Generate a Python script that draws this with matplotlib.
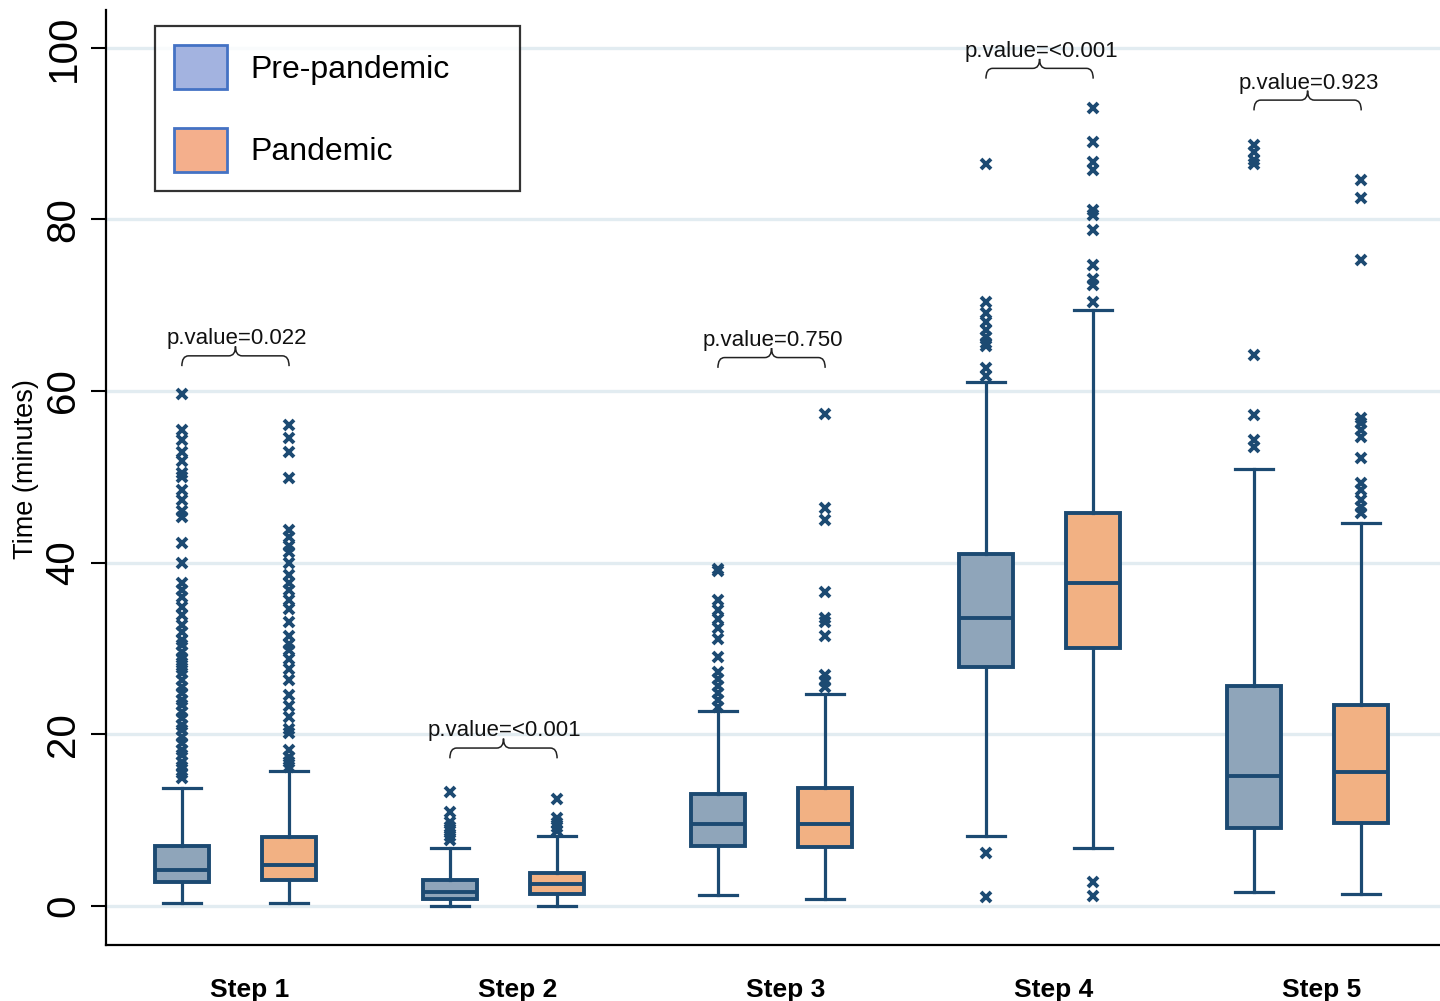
import matplotlib
matplotlib.use("Agg")
import matplotlib.pyplot as plt
from matplotlib.patches import Patch
from matplotlib.path import Path
from matplotlib.patches import PathPatch

# Box statistics (minutes)
steps = ["Step 1", "Step 2", "Step 3", "Step 4", "Step 5"]
groups = ["Pre-pandemic", "Pandemic"]

pre_whislo = [0.4, 0.0, 1.3, 8.2, 1.6]
pre_q1 = [2.8, 0.8, 7.0, 27.9, 9.1]
pre_med = [4.2, 1.6, 9.6, 33.5, 15.2]
pre_q3 = [7.0, 3.0, 13.0, 41.0, 25.6]
pre_whishi = [13.8, 6.8, 22.7, 61.0, 50.9]

pan_whislo = [0.4, 0.0, 0.8, 6.7, 1.4]
pan_q1 = [3.0, 1.35, 6.9, 30.1, 9.7]
pan_med = [4.8, 2.6, 9.6, 37.6, 15.6]
pan_q3 = [8.0, 3.8, 13.8, 45.8, 23.4]
pan_whishi = [15.7, 8.2, 24.7, 69.5, 44.6]

pre_fliers = [
    [14.9, 15.5, 16.2, 16.8, 17.6, 18.2, 19.0, 19.7, 20.5, 21.1, 21.9, 22.6,
     23.4, 24.0, 24.8, 25.5, 26.3, 27.2, 27.7, 28.3, 28.9, 29.6, 30.4, 31.0,
     31.9, 32.7, 33.9, 34.8, 36.0, 36.8, 37.6, 40.0, 42.3, 45.3, 46.0, 47.3,
     48.5, 50.0, 50.5, 51.8, 52.9, 54.3, 55.5, 59.7],
    [7.7, 8.2, 8.7, 9.2, 9.8, 10.9, 13.3],
    [23.2, 24.0, 24.8, 25.6, 26.5, 27.3, 29.0, 31.1, 32.4, 33.4, 34.5, 35.7,
     39.0, 39.3],
    [1.1, 6.2, 61.7, 62.7, 65.2, 65.6, 66.3, 67.1, 68.1, 69.1, 70.4, 86.5],
    [53.5, 54.3, 57.2, 64.2, 86.4, 86.9, 87.8, 88.7],
]
pan_fliers = [
    [16.2, 16.8, 17.4, 18.2, 20.2, 20.6, 22.0, 23.3, 24.6, 26.3, 27.6, 28.8,
     29.8, 30.5, 31.4, 33.1, 34.6, 35.7, 36.8, 37.6, 38.6, 40.0, 41.2, 42.0,
     43.0, 43.8, 49.9, 52.9, 54.5, 56.1],
    [8.7, 9.2, 9.7, 10.2, 12.5],
    [25.5, 26.2, 26.9, 31.4, 33.1, 33.6, 36.6, 45.0, 46.4, 57.3],
    [1.2, 2.8, 70.4, 72.4, 73.0, 74.7, 78.8, 80.5, 81.1, 85.8, 86.7, 89.0, 93.0],
    [45.8, 46.5, 47.3, 48.5, 49.3, 52.2, 54.7, 55.5, 56.3, 56.9, 75.3, 82.5, 84.6],
]

p_labels = ["p.value=0.022", "p.value=<0.001", "p.value=0.750",
            "p.value=<0.001", "p.value=0.923"]
bracket_y = [64.1, 18.4, 63.9, 97.6, 93.9]

navy = "#1C4A72"
pre_color = "#8FA5BA"
pan_color = "#F2B183"

plt.rcParams["font.family"] = ["Liberation Sans", "DejaVu Sans"]

fig = plt.figure(figsize=(14.4, 10.01), dpi=100)
ax = fig.add_axes([106 / 1440, 56 / 1001, 1334 / 1440, 935 / 1001])

off = 0.2
centers = list(range(1, len(steps) + 1))


def make_stats(lo, q1, med, q3, hi, fl):
    return [dict(whislo=lo[i], q1=q1[i], med=med[i], q3=q3[i], whishi=hi[i],
                 fliers=fl[i]) for i in range(len(lo))]


common = dict(
    widths=0.2, capwidths=0.14, patch_artist=True, showfliers=True,
    whiskerprops=dict(color=navy, linewidth=2.3),
    capprops=dict(color=navy, linewidth=2.3),
    medianprops=dict(color=navy, linewidth=2.8),
    flierprops=dict(marker="x", markeredgecolor=navy, markersize=7,
                    markeredgewidth=2.8, linestyle="none"),
)

pre_stats = make_stats(pre_whislo, pre_q1, pre_med, pre_q3, pre_whishi, pre_fliers)
pan_stats = make_stats(pan_whislo, pan_q1, pan_med, pan_q3, pan_whishi, pan_fliers)

b1 = ax.bxp(pre_stats, positions=[c - off for c in centers],
            boxprops=dict(facecolor=pre_color, edgecolor=navy, linewidth=2.8),
            **common)
b2 = ax.bxp(pan_stats, positions=[c + off for c in centers],
            boxprops=dict(facecolor=pan_color, edgecolor=navy, linewidth=2.8),
            **common)
for b in (b1, b2):
    for k in b:
        for a in b[k]:
            a.set_zorder(3)


# curly braces with p-values
def brace(x0, x1, y, drop=1.2, peak=1.1):
    xm = (x0 + x1) / 2
    r = 0.025
    verts = [(x0, y - drop), (x0, y), (x0 + r, y),
             (xm - r, y), (xm, y), (xm, y + peak),
             (xm, y), (xm + r, y),
             (x1 - r, y), (x1, y), (x1, y - drop)]
    codes = [Path.MOVETO, Path.CURVE3, Path.CURVE3,
             Path.LINETO, Path.CURVE3, Path.CURVE3,
             Path.CURVE3, Path.CURVE3,
             Path.LINETO, Path.CURVE3, Path.CURVE3]
    ax.add_patch(PathPatch(Path(verts, codes), facecolor="none",
                           edgecolor="#222222", linewidth=1.1, zorder=4))


for c, lab, y in zip(centers, p_labels, bracket_y):
    brace(c - off, c + off, y)
    ax.text(c + 0.005, y + 1.35, lab, ha="center", va="baseline",
            fontsize=16, color="#111111", zorder=5)

ax.set_xlim(0.517, 5.494)
ax.set_ylim(-4.55, 104.4)
ax.set_yticks([0, 20, 40, 60, 80, 100])
ax.set_yticklabels(["0", "20", "40", "60", "80", "100"], rotation=90,
                   va="center", fontsize=29)
ax.tick_params(axis="y", length=11, width=1.5, pad=6, color="black")
ax.set_xticks([c + 0.053 for c in centers])
ax.set_xticklabels(steps, fontsize=19, fontweight="bold")
ax.tick_params(axis="x", length=0, pad=24)

ax.set_ylabel("Time (minutes)", fontsize=19.5)
ax.yaxis.set_label_coords(-0.05, 0.509)

ax.grid(axis="y", color="#E2ECF1", linewidth=2.4, zorder=0)
ax.set_axisbelow(True)
for s in ("top", "right"):
    ax.spines[s].set_visible(False)
ax.spines["left"].set_linewidth(1.6)
ax.spines["bottom"].set_linewidth(1.6)

handles = [Patch(facecolor="#A3B3E0", edgecolor="#4472C4", linewidth=2),
           Patch(facecolor="#F4AF8C", edgecolor="#4472C4", linewidth=2)]
leg = fig.legend(handles, groups, loc="upper left",
                 bbox_to_anchor=(155 / 1440, 1 - 27 / 1001, 365 / 1440, 0.001),
                 mode="expand", borderaxespad=0, fontsize=23, frameon=True,
                 fancybox=False, edgecolor="black", handlelength=1.65,
                 handleheight=1.75, handletextpad=0.75, labelspacing=1.2,
                 borderpad=0.6)
leg.get_frame().set_linewidth(1.6)

fig.savefig("out.png", dpi=100, facecolor="white")
